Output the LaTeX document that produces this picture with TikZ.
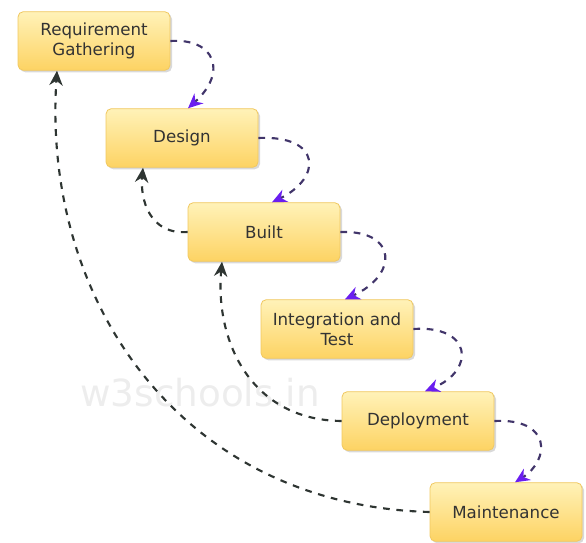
\documentclass[tikz,border=0pt]{standalone}
\usepackage{fontspec}
\setmainfont{DejaVu Sans}
\usetikzlibrary{arrows.meta,shadows,calc}
\definecolor{boxtop}{HTML}{FFF2B8}
\definecolor{boxbot}{HTML}{FDD363}
\definecolor{boxedge}{HTML}{F0C860}
\definecolor{fwdline}{HTML}{41356A}
\definecolor{fwdhead}{HTML}{6A1EF0}
\definecolor{backline}{HTML}{2E3532}
\definecolor{wmark}{HTML}{EDEDED}
\begin{document}
\begin{tikzpicture}[x=0.75pt,y=-0.75pt,
  stage/.style={draw=boxedge,line width=0.6pt,rounded corners=4pt,
    top color=boxtop,bottom color=boxbot,
    drop shadow={shadow xshift=1.5pt,shadow yshift=-1.5pt,opacity=0.3},
    minimum width=114pt,minimum height=44pt,align=center,
    font=\fontsize{12.5}{15}\selectfont,text=black!80},
  fwd/.style={draw=fwdline,line width=1.6pt,dash pattern=on 5pt off 5pt,
    -{Stealth[length=11pt,width=10pt,color=fwdhead]}},
  back/.style={draw=backline,line width=1.6pt,dash pattern=on 5pt off 5pt,
    -{Stealth[length=11pt,width=10pt,color=backline]}}]
\useasboundingbox (0,0) rectangle (586,543);
\node[text=wmark,font=\fontsize{28}{30}\selectfont] (wm) at (200,393) {w3schools.in};
\node[stage] (R) at (94,41) {Requirement\\Gathering};
\node[stage] (D) at (182,138) {Design};
\node[stage] (B) at (264,232) {Built};
\node[stage] (I) at (337,329) {Integration and\\Test};
\node[stage] (P) at (418,421) {Deployment};
\node[stage] (M) at (506,512) {Maintenance};
% forward
\draw[fwd] (R.east) .. controls (215,38) and (228,72) .. ($(D.north)+(6,0)$);
\draw[fwd] (D.east) .. controls (322,135) and (322,178) .. ($(B.north)+(8,0)$);
\draw[fwd] (B.east) .. controls (398,230) and (398,275) .. ($(I.north)+(8,0)$);
\draw[fwd] (I.east) .. controls (472,325) and (476,370) .. ($(P.north)+(7,0)$);
\draw[fwd] (P.east) .. controls (552,418) and (550,460) .. ($(M.north)+(9,0)$);
% backward
\draw[back] (B.west) .. controls (150,235) and (140,200) .. ($(D.south)+(-39,0)$);
\draw[back] (P.west) .. controls (250,420) and (215,340) .. ($(B.south)+(-42,0)$);
\draw[back] (M.west) .. controls (180,505) and (42,300) .. ($(R.south)+(-37,0)$);
\end{tikzpicture}
\end{document}
